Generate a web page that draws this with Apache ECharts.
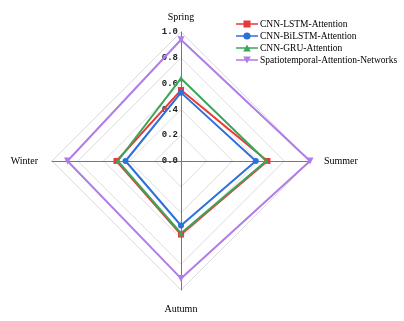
<!DOCTYPE html>
<html lang="en">
<head>
    <meta charset="UTF-8"/>
    <title>Seasonal radar</title>
    <style>
        * {
            padding: 0;
            margin: 0;
        }

        body {
            background: #fff;
        }

        .chart {
            width: 404px;
            height: 321px;
        }
    </style>
    <script src="https://cdn.jsdelivr.net/npm/echarts@6/dist/echarts.min.js"></script>
</head>
<body>
<div class="chart" id="chart"></div>
</body>
<script>
    // indicator order: ECharts goes counterclockwise from the top
    const seasons = ["Spring", "Winter", "Autumn", "Summer"];
    const seriesNames = [
        "CNN-LSTM-Attention",
        "CNN-BiLSTM-Attention",
        "CNN-GRU-Attention",
        "Spatiotemporal-Attention-Networks",
    ];
    // values in the same order as seasons
    const lstmValues = [0.55, 0.50, 0.57, 0.67];
    const bilstmValues = [0.53, 0.43, 0.50, 0.58];
    const gruValues = [0.64, 0.49, 0.56, 0.66];
    const stanValues = [0.94, 0.88, 0.91, 1.0];

    const color = ["#e8393a", "#2e6fdc", "#3da55a", "#b07de6"];
    const symbols = [
        "rect",
        "circle",
        "triangle",
        "path://M0,0L10,0L5,9z",
    ];
    const legendIcons = [
        "path://M0,3h22v1.4h-22z M7.5,0.2h7v7h-7z",
        "path://M0,3h22v1.4h-22z M14.6,3.7a3.6,3.6 0 1,1 -7.2,0a3.6,3.6 0 1,1 7.2,0z",
        "path://M0,3h22v1.4h-22z M11,0.2L14.8,7.2H7.2z",
        "path://M0,3h22v1.4h-22z M7.2,0.2H14.8L11,7.2z",
    ];
    const valuesList = [lstmValues, bilstmValues, gruValues, stanValues];

    const dom = document.getElementById("chart");
    const myChart = echarts.init(dom);

    const indicator = seasons.map((name, idx) => {
        const item = {name: name, min: 0, max: 1, nameGap: 14};
        if (idx !== 0) {
            item.axisLabel = {show: false};
        } else {
            item.nameGap = 10;
        }
        return item;
    });

    const series = [{
        type: "radar",
        data: valuesList.map((vals, idx) => ({
            name: seriesNames[idx],
            value: vals,
            symbol: symbols[idx],
            symbolSize: idx === 3 ? 7 : 6,
            lineStyle: {color: color[idx], width: 2},
            itemStyle: {color: color[idx]},
        })),
    }];

    const options = {
        animation: false,
        color: color,
        legend: {
            orient: "vertical",
            left: 231,
            top: 14,
            itemWidth: 22,
            itemHeight: 8,
            itemGap: 2,
            data: seriesNames.map((name, idx) => ({
                name: name,
                icon: legendIcons[idx],
            })),
            textStyle: {
                fontFamily: "Liberation Serif",
                fontSize: 9.5,
                color: "#000",
                padding: [0, 0, 0, -3],
            },
        },
        radar: {
            center: [181, 161],
            radius: 129,
            shape: "polygon",
            splitNumber: 5,
            indicator: indicator,
            nameGap: 12,
            axisName: {
                fontFamily: "Liberation Serif",
                fontSize: 10,
                color: "#000",
            },
            axisLine: {lineStyle: {color: "#777", width: 1}},
            splitLine: {lineStyle: {color: "#dcdcdc", width: 1}},
            splitArea: {show: false},
            axisLabel: {
                show: true,
                fontFamily: "Liberation Mono",
                fontWeight: "bold",
                fontSize: 9,
                color: "#222",
                margin: 3,
                formatter: (v) => v.toFixed(1),
            },
        },
        series: series,
    };
    myChart.setOption(options);
</script>
</html>
